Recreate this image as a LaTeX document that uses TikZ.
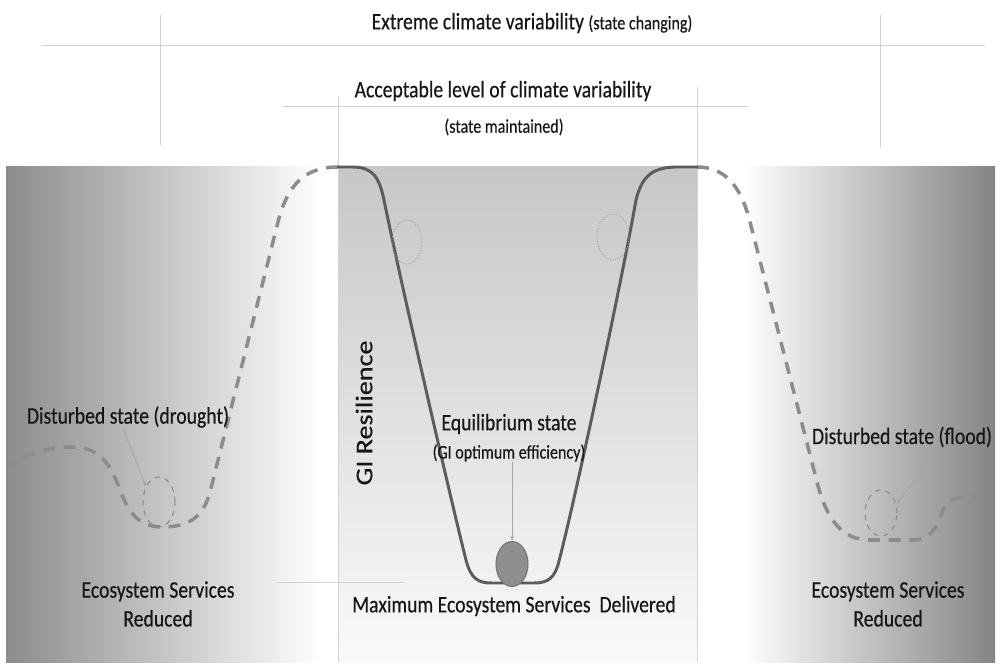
\documentclass[tikz,border=0pt]{standalone}
\usepackage{fontspec}
\usepackage{graphicx}
\setmainfont{Carlito}[FakeStretch=0.83,FakeBold=0.35]
\newfontfamily\rotfont{Carlito}[FakeBold=0.35]
\usetikzlibrary{positioning,shapes.geometric,arrows.meta,calc}
\definecolor{bowlgrey}{HTML}{5C5C5C}
\definecolor{dashgrey}{HTML}{8C8C8C}
\definecolor{rulegrey}{HTML}{D2D2D2}
\definecolor{ptrgrey}{HTML}{A6A6A6}
\definecolor{txtgrey}{HTML}{161616}
\definecolor{ballgrey}{HTML}{8E8E8E}
\tikzset{
  lab/.style    ={font=\fontsize{13.5}{16.4}\selectfont, text=txtgrey, inner sep=0pt, align=center},
  sublab/.style ={lab, font=\fontsize{11}{12}\selectfont},
  guide/.style  ={draw=rulegrey, line width=0.55pt},
  bowlline/.style={draw=bowlgrey, line width=1.7pt, line cap=round},
  altline/.style={draw=dashgrey, line width=2pt, dash pattern=on 6.8pt off 5pt},
  well/.style   ={ellipse, draw=dashgrey, line width=0.6pt, dashed, minimum width=6.4mm,
                  minimum height=9.6mm, inner sep=0pt},
  trial/.style  ={ellipse, draw=dashgrey!85, line width=0.5pt, densely dotted,
                  minimum width=6mm, minimum height=8.8mm, inner sep=0pt},
  ptr/.style    ={-{Stealth[length=3pt,width=2pt]}, draw=ptrgrey, line width=0.45pt}
}
\begin{document}
\begin{tikzpicture}[x=0.02cm, y=-0.02cm]
  \useasboundingbox (0,0) rectangle (1000,665);

  % bands
  \shade[left color=black!45, right color=white] (6,167) rectangle (322,662);
  \shade[top color=black!22, bottom color=black!2] (338,167) rectangle (697,662);
  \shade[left color=white, right color=black!48] (742,167) rectangle (995,662);

  % guide lines
  \draw[guide] (42,45) -- (985,45);
  \draw[guide] (160,15) -- (160,145);
  \draw[guide] (880,15) -- (880,148);
  \draw[guide] (283,106) -- (748,106);
  \draw[guide] (338,97) -- (338,662);
  \draw[guide] (697,87) -- (697,662);
  \draw[guide] (277,582) -- (405,582);

  % basins
  \draw[altline] (338,167) .. controls (300,167) and (285,190) .. (276,230) -- (210,492)
    .. controls (203,518) and (188,527) .. (162,527) .. controls (140,527) and (129,514) .. (120,490)
    .. controls (110,462) and (98,447) .. (72,447) .. controls (45,447) and (25,455) .. (10,466);
  \draw[altline] (697,167) .. controls (722,167) and (740,182) .. (750,222) -- (816,478)
    .. controls (826,520) and (842,540) .. (870,540) -- (912,540)
    .. controls (930,540) and (936,530) .. (943,510) .. controls (950,497) and (958,496) .. (990,496);
  \draw[bowlline] (338,167) -- (352,167) .. controls (372,167) and (379,176) .. (384,200)
    .. controls (398,270) and (452,505) .. (466,560) .. controls (471,579) and (478,583) .. (492,583)
    -- (534,583) .. controls (548,583) and (555,578) .. (559,561)
    .. controls (575,500) and (622,280) .. (636,200) .. controls (642,176) and (652,168) .. (675,167)
    -- (697,167);

  % states
  \node[trial] (tleft) at (407,242) {};
  \node[trial, minimum width=6.4mm, minimum height=9.2mm] (tright) at (613,237) {};
  \node[ellipse, fill=ballgrey, draw=bowlgrey!85, line width=0.6pt, minimum width=6.4mm,
        minimum height=9mm, inner sep=0pt] (ball) at (512,564) {};
  \node[well, minimum height=10mm] (dwell) at (159,502) {};
  \node[well, minimum height=9.2mm] (fwell) at (881,513) {};

  % labels
  \node[lab] (extreme) at (532,23) {Extreme climate variability {\fontsize{11}{12}\selectfont(state changing)}};
  \node[lab] (accept) at (503,91) {Acceptable level of climate variability};
  \node[sublab] (kept) at (504,127) {(state maintained)};
  \node[lab, rotate=90] (resil) at (364,413) {\scalebox{1}[0.85]{\rotfont\fontsize{16}{18}\selectfont GI Resilience}};
  \node[lab] (equil) at (509,424) {Equilibrium state};
  \node[sublab] (optim) at (509,453) {(GI optimum efficiency)};
  \node[lab] (drought) at (128,417) {Disturbed state (drought)};
  \node[lab] (flood) at (902,437) {Disturbed state (flood)};
  \node[lab] (maxes) at (514,606) {Maximum Ecosystem Services\ \ Delivered};
  \node[lab] (esleft) at (158,604) {Ecosystem Services\\Reduced};
  \node[lab] (esright) at (888,604) {Ecosystem Services\\Reduced};

  % pointers
  \draw[ptr] (optim.south -| ball.north) -- (ball.north);
  \draw[ptr] ([xshift=-1mm]drought.south) -- (dwell.130);
  \draw[ptr] ([xshift=6mm,yshift=-2mm]flood.south) -- (fwell.30);
\end{tikzpicture}
\end{document}
